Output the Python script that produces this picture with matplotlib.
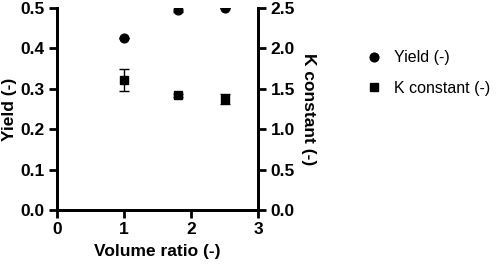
import matplotlib.pyplot as plt
from matplotlib.lines import Line2D
import numpy as np

plt.rcParams['font.family'] = ['Liberation Sans', 'DejaVu Sans']

ratio = [1.0, 1.8, 2.5]
yield_val = [0.426, 0.496, 0.499]
yield_err = [0.0, 0.006, 0.0]
k_val = [1.61, 1.42, 1.37]
k_err = [0.135, 0.02, 0.06]

fig = plt.figure(figsize=(4.98, 2.65), dpi=100)
ax = fig.add_axes([57/498, 1-210/265, 201/498, 202/265])
ax2 = ax.twinx()

ax.errorbar(ratio, yield_val, yerr=yield_err, fmt='o', color='black', ms=6.3,
            capsize=3.5, elinewidth=1)
ax2.errorbar(ratio, k_val, yerr=k_err, fmt='s', color='black', ms=6.3,
             capsize=3.5, elinewidth=1)

ax.set_xlim(0, 3)
ax.set_ylim(0, 0.5)
ax2.set_ylim(0, 2.5)
ax.set_xticks([0, 1, 2, 3])
ax.set_yticks(np.arange(0, 0.51, 0.1))
ax2.set_yticks(np.arange(0, 2.51, 0.5))
ax.set_yticklabels(['%.1f' % v for v in np.arange(0, 0.51, 0.1)])
ax2.set_yticklabels(['%.1f' % v for v in np.arange(0, 2.51, 0.5)])

for a in (ax, ax2):
    a.spines['top'].set_visible(False)
    for s in a.spines.values():
        s.set_linewidth(2)
    a.tick_params(width=2, length=6, labelsize=12.5, pad=3)
    for lbl in a.get_xticklabels() + a.get_yticklabels():
        lbl.set_fontweight('bold')

ax.set_xlabel('Volume ratio (-)', fontsize=12.5, fontweight='bold', labelpad=5)
ax.set_ylabel('Yield (-)', fontsize=12.5, fontweight='bold', labelpad=2)
ax2.set_ylabel('K constant (-)', fontsize=12.5, fontweight='bold', rotation=270, labelpad=15)

handles = [Line2D([], [], ls='none', marker='o', color='black', ms=6.3),
           Line2D([], [], ls='none', marker='s', color='black', ms=6.3)]
fig.legend(handles, ['Yield (-)', 'K constant (-)'], loc='upper left',
           bbox_to_anchor=(360/498, 1-44/265), frameon=False, fontsize=11.5,
           handletextpad=0.7, labelspacing=0.95, handlelength=1.0, borderaxespad=0)

fig.savefig('out.png', dpi=100)
